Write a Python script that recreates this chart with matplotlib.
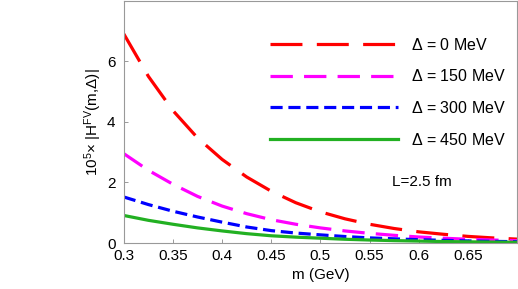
import numpy as np
import matplotlib
matplotlib.use("Agg")
import matplotlib.pyplot as plt

plt.rcParams['font.family'] = ['Liberation Sans', 'DejaVu Sans']
plt.rcParams['mathtext.fontset'] = 'custom'
plt.rcParams['mathtext.rm'] = 'Liberation Sans'
plt.rcParams['mathtext.it'] = 'Liberation Sans'

# m (GeV)
m = [0.3, 0.325, 0.35, 0.375, 0.4, 0.425, 0.45, 0.475, 0.5,
     0.525, 0.55, 0.575, 0.6, 0.625, 0.65, 0.675, 0.7]

# 10^5 x |H^FV(m, Delta)| for each Delta
h_0 = [6.9, 5.5, 4.37, 3.47, 2.76, 2.18, 1.71, 1.33, 1.03,
       0.8, 0.62, 0.48, 0.37, 0.29, 0.22, 0.17, 0.13]
h_150 = [2.95, 2.4, 1.94, 1.54, 1.22, 0.97, 0.77, 0.62, 0.5,
         0.4, 0.32, 0.255, 0.2, 0.16, 0.125, 0.1, 0.08]
h_300 = [1.52, 1.27, 1.05, 0.86, 0.69, 0.53, 0.41, 0.33, 0.27,
         0.215, 0.17, 0.14, 0.11, 0.09, 0.07, 0.055, 0.045]
h_450 = [0.91, 0.75, 0.62, 0.5, 0.4, 0.31, 0.24, 0.195, 0.16,
         0.125, 0.1, 0.08, 0.065, 0.05, 0.04, 0.032, 0.025]

labels = [r"$\Delta$ = 0 MeV", r"$\Delta$ = 150 MeV",
          r"$\Delta$ = 300 MeV", r"$\Delta$ = 450 MeV"]

fig = plt.figure(figsize=(5.18, 2.89), dpi=100)
ax = fig.add_axes([0.239, 0.159, 0.759, 0.839])

lw = 2.3
ax.plot(m, h_0, color='#ff0000', lw=lw, dashes=(10, 4.5), label=labels[0])
ax.plot(m, h_150, color='#ff00ff', lw=lw, dashes=(7, 3.5), label=labels[1])
ax.plot(m, h_300, color='#0000ff', lw=lw, dashes=(3.8, 1.8), label=labels[2])
ax.plot(m, h_450, color='#22b022', lw=lw, label=labels[3])

ax.set_xlim(0.3, 0.7)
ax.set_ylim(0, 8)
ax.set_xticks([0.3, 0.35, 0.4, 0.45, 0.5, 0.55, 0.6, 0.65])
ax.set_xticklabels(['0.3', '0.35', '0.4', '0.45', '0.5', '0.55', '0.6', '0.65'])
ax.set_yticks([0, 2, 4, 6])

for s in ax.spines.values():
    s.set_color('#999999')
    s.set_linewidth(0.8)
ax.tick_params(direction='in', length=3, width=0.7, color='#999999',
               labelsize=11)
ax.tick_params(axis='x', pad=4)
ax.tick_params(axis='y', pad=6)

ax.set_xlabel("m (GeV)", fontsize=11, labelpad=4)
ax.set_ylabel(r"10$^5$$\times$ |H$^{\rm FV}$(m,$\Delta$)|", fontsize=11, labelpad=2)

ax.text(0.603, 2.0, "L=2.5 fm", fontsize=11, ha='center', va='center')

ax.legend(loc='upper left', bbox_to_anchor=(0.356, 0.878), borderaxespad=0,
          frameon=False, fontsize=11.5, handlelength=8.0, handletextpad=0.8,
          labelspacing=0.98)

fig.savefig("out.png", dpi=100)
